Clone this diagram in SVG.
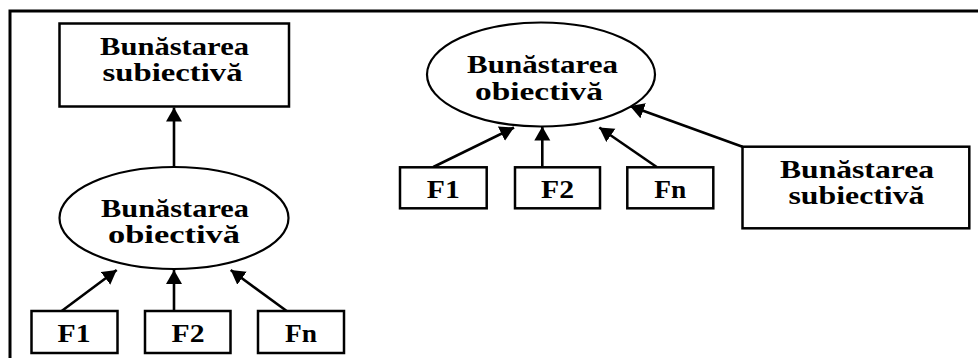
<svg xmlns="http://www.w3.org/2000/svg" width="978" height="358" viewBox="0 0 978 358">
<style>
.box{fill:#fff;stroke:#000;stroke-width:2.5}
.ell{fill:#fff;stroke:#000;stroke-width:2.2}
.t{font-family:"Liberation Serif","Times New Roman",serif;font-weight:bold;font-size:25px;fill:#000;text-anchor:middle}
.c{stroke:#000;stroke-width:2.6;fill:none}
.frame{stroke:#000;stroke-width:3;fill:none}
</style>
<defs>
<marker id="ah" markerUnits="userSpaceOnUse" markerWidth="16" markerHeight="18" refX="14" refY="8" orient="auto">
<path d="M0,0 L14,8 L0,16 Z" fill="#000"/>
</marker>
</defs>
<rect width="978" height="358" fill="#fff"/>
<path class="frame" d="M10,358 L10,11 L978,11"/>

<g id="connectors">
<line class="c" x1="174" y1="167" x2="174" y2="107.5" marker-end="url(#ah)"/>
<line class="c" x1="61.7" y1="311" x2="116.7" y2="270" marker-end="url(#ah)"/>
<line class="c" x1="174" y1="311" x2="174" y2="270" marker-end="url(#ah)"/>
<line class="c" x1="286.7" y1="311" x2="230.7" y2="270" marker-end="url(#ah)"/>
<line class="c" x1="433.3" y1="167" x2="514" y2="127.5" marker-end="url(#ah)"/>
<line class="c" x1="542.3" y1="167" x2="542.3" y2="126.5" marker-end="url(#ah)"/>
<line class="c" x1="656.7" y1="167" x2="599.3" y2="127.5" marker-end="url(#ah)"/>
<line class="c" x1="742.5" y1="146.7" x2="630" y2="106" marker-end="url(#ah)"/>
</g>

<g id="left-subiectiva">
<rect class="box" x="59.5" y="23.5" width="229.5" height="83"/>
<text class="t" x="174.5" y="54.5" textLength="149" lengthAdjust="spacingAndGlyphs">Bunăstarea</text>
<text class="t" x="172.5" y="80.5" textLength="140" lengthAdjust="spacingAndGlyphs">subiectivă</text>
</g>
<g id="left-obiectiva">
<ellipse class="ell" cx="174" cy="218" rx="114.5" ry="51"/>
<text class="t" x="175" y="216.5" textLength="148" lengthAdjust="spacingAndGlyphs">Bunăstarea</text>
<text class="t" x="174" y="243" textLength="132" lengthAdjust="spacingAndGlyphs">obiectivă</text>
</g>
<g id="left-f1">
<rect class="box" x="31.5" y="311" width="86" height="42"/>
<text class="t" x="74" y="342" textLength="33" lengthAdjust="spacingAndGlyphs">F1</text>
</g>
<g id="left-f2">
<rect class="box" x="145" y="311" width="85.5" height="42"/>
<text class="t" x="188" y="342" textLength="33" lengthAdjust="spacingAndGlyphs">F2</text>
</g>
<g id="left-fn">
<rect class="box" x="258" y="311" width="86" height="42"/>
<text class="t" x="301" y="342" textLength="32" lengthAdjust="spacingAndGlyphs">Fn</text>
</g>

<g id="right-obiectiva">
<ellipse class="ell" cx="541" cy="74.5" rx="114" ry="52"/>
<text class="t" x="542.5" y="73" textLength="151" lengthAdjust="spacingAndGlyphs">Bunăstarea</text>
<text class="t" x="539" y="99.5" textLength="128" lengthAdjust="spacingAndGlyphs">obiectivă</text>
</g>
<g id="right-f1">
<rect class="box" x="400" y="167.3" width="86.7" height="41"/>
<text class="t" x="443.3" y="198" textLength="33" lengthAdjust="spacingAndGlyphs">F1</text>
</g>
<g id="right-f2">
<rect class="box" x="515" y="167.3" width="85" height="41"/>
<text class="t" x="557.5" y="198" textLength="33" lengthAdjust="spacingAndGlyphs">F2</text>
</g>
<g id="right-fn">
<rect class="box" x="627.3" y="167.3" width="86" height="41"/>
<text class="t" x="670.3" y="198" textLength="32" lengthAdjust="spacingAndGlyphs">Fn</text>
</g>
<g id="right-subiectiva">
<rect class="box" x="742.5" y="146.7" width="226.8" height="81.6"/>
<text class="t" x="857" y="178.3" textLength="154" lengthAdjust="spacingAndGlyphs">Bunăstarea</text>
<text class="t" x="856.5" y="204" textLength="136" lengthAdjust="spacingAndGlyphs">subiectivă</text>
</g>
</svg>
